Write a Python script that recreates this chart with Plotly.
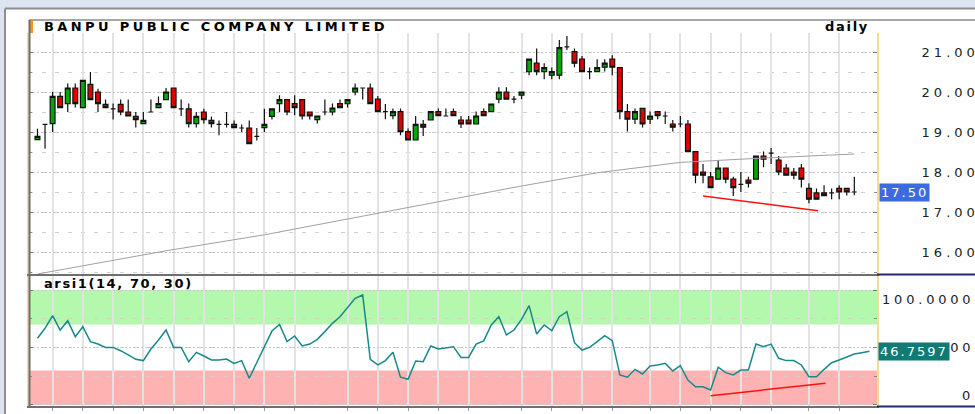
import plotly.graph_objects as go

# ---- data (daily candles, index = trading day) ----
opens = [18.81, 19.19, 19.21, 19.89, 19.71, 20.10, 19.61, 20.19, 20.00, 19.69,
         19.58, 19.69, 19.50, 19.39, 19.21, 19.50, 19.61, 19.81, 20.10, 19.58,
         19.58, 19.21, 19.50, 19.29, 19.19, 19.19, 19.19, 19.10, 19.10, 18.89,
         19.11, 19.39, 19.71, 19.81, 19.71, 19.81, 19.50, 19.31, 19.50, 19.50,
         19.71, 19.71, 20.00, 20.10, 20.10, 19.82, 19.51, 19.41, 19.51, 19.01,
         18.80, 19.19, 19.30, 19.51, 19.40, 19.51, 19.30, 19.30, 19.20, 19.51,
         19.51, 19.82, 20.00, 19.82, 19.92, 20.51, 20.72, 20.51, 20.42, 20.42,
         21.13, 21.01, 20.82, 20.51, 20.51, 20.62, 20.82, 20.61, 19.51, 19.32,
         19.59, 19.32, 19.51, 19.40, 19.20, 19.20, 19.20, 18.51, 18.00, 17.88,
         17.82, 18.10, 17.82, 17.69, 17.80, 17.82, 18.40, 18.47, 18.30, 18.10,
         18.00, 18.10, 17.59, 17.48, 17.48, 17.48, 17.59, 17.59, 17.50]
highs = [19.08, 19.19, 20.00, 20.00, 20.21, 20.21, 20.29, 20.50, 20.08, 19.81,
         19.71, 19.81, 19.81, 19.50, 19.50, 19.81, 19.89, 20.10, 20.10, 19.81,
         19.71, 19.50, 19.58, 19.39, 19.29, 19.50, 19.29, 19.19, 19.29, 19.10,
         19.58, 19.58, 19.92, 19.81, 19.92, 19.81, 19.50, 19.40, 19.81, 19.71,
         19.81, 19.81, 20.21, 20.10, 20.21, 19.90, 19.70, 19.59, 19.59, 19.09,
         19.40, 19.30, 19.51, 19.59, 19.59, 19.59, 19.40, 19.40, 19.51, 19.59,
         19.70, 20.12, 20.12, 19.90, 20.00, 20.82, 21.09, 20.72, 20.61, 21.30,
         21.40, 21.09, 20.90, 20.61, 20.82, 20.82, 20.92, 20.61, 19.70, 19.59,
         19.59, 19.51, 19.51, 19.51, 19.30, 19.40, 19.30, 18.51, 18.20, 18.00,
         18.30, 18.10, 17.88, 18.00, 17.88, 18.40, 18.51, 18.60, 18.40, 18.20,
         18.10, 18.20, 17.72, 17.59, 17.67, 17.59, 17.67, 17.59, 17.88]
lows = [18.80, 18.58, 19.00, 19.61, 19.50, 19.61, 19.61, 19.81, 19.50, 19.61,
        19.31, 19.42, 19.40, 19.11, 19.21, 19.50, 19.61, 19.81, 19.61, 19.40,
        19.11, 19.11, 19.21, 19.11, 18.92, 19.11, 19.11, 19.00, 18.71, 18.79,
        19.00, 19.31, 19.50, 19.42, 19.42, 19.31, 19.31, 19.21, 19.42, 19.42,
        19.61, 19.61, 19.92, 19.81, 19.71, 19.51, 19.32, 19.32, 18.92, 18.80,
        18.80, 18.90, 19.30, 19.41, 19.40, 19.41, 19.10, 19.20, 19.20, 19.41,
        19.51, 19.72, 19.82, 19.72, 19.82, 20.42, 20.42, 20.32, 20.32, 20.32,
        21.05, 20.62, 20.51, 20.32, 20.51, 20.51, 20.42, 19.32, 19.01, 19.20,
        19.11, 19.20, 19.32, 19.20, 19.01, 19.12, 18.51, 17.72, 17.72, 17.61,
        17.82, 17.72, 17.40, 17.50, 17.61, 17.82, 18.12, 18.20, 17.92, 17.92,
        17.82, 17.61, 17.22, 17.32, 17.41, 17.32, 17.32, 17.41, 17.42]
closes = [18.89, 19.19, 19.89, 19.61, 20.10, 19.71, 20.29, 19.81, 19.71, 19.61,
          19.58, 19.50, 19.40, 19.31, 19.29, 19.50, 19.71, 20.00, 19.61, 19.58,
          19.21, 19.39, 19.31, 19.21, 19.19, 19.19, 19.11, 19.10, 18.71, 18.89,
          19.19, 19.58, 19.81, 19.50, 19.61, 19.40, 19.40, 19.40, 19.50, 19.60,
          19.61, 19.81, 20.10, 20.10, 19.71, 19.51, 19.51, 19.51, 19.01, 18.80,
          19.19, 19.12, 19.51, 19.41, 19.40, 19.41, 19.20, 19.20, 19.40, 19.41,
          19.70, 20.00, 19.82, 19.82, 20.00, 20.82, 20.51, 20.61, 20.51, 21.11,
          21.13, 20.72, 20.51, 20.51, 20.61, 20.72, 20.62, 19.51, 19.32, 19.51,
          19.20, 19.40, 19.41, 19.40, 19.12, 19.20, 18.51, 17.92, 17.92, 17.61,
          18.10, 17.82, 17.61, 17.69, 17.72, 18.40, 18.32, 18.47, 18.00, 17.92,
          17.92, 17.82, 17.32, 17.32, 17.41, 17.48, 17.50, 17.50, 17.50]

# long moving average (grey line), read at a few days
ma_day = [0, 17, 30, 48, 64, 74, 85, 95, 108]
ma_val = [15.45, 16.03, 16.43, 17.08, 17.65, 17.98, 18.24, 18.34, 18.45]

# red trend lines drawn by the analyst
price_trend_day = [88.0, 103.2]
price_trend_val = [17.40, 17.03]
rsi_trend_day = [89.0, 104.2]
rsi_trend_val = [8.0, 19.0]

# arsi1(14, 70, 30) values
rsi = [58.0, 66.7, 77.7, 65.2, 73.3, 59.4, 68.1, 55.1, 53.0, 50.1,
       50.1, 47.2, 43.5, 39.7, 38.6, 48.7, 56.5, 65.2, 50.1, 50.1,
       37.7, 45.8, 42.6, 39.1, 39.1, 40.0, 36.2, 38.6, 23.2, 36.8,
       51.3, 64.3, 70.1, 55.1, 60.0, 51.3, 53.0, 57.1, 63.8, 71.0,
       76.8, 85.0, 92.8, 95.7, 39.7, 34.8, 38.6, 45.8, 24.1, 22.3,
       38.3, 37.7, 51.3, 48.7, 49.7, 50.7, 41.4, 41.4, 53.0, 55.7,
       69.6, 76.8, 60.9, 65.2, 74.5, 86.4, 61.7, 69.6, 64.6, 76.8,
       81.2, 54.2, 47.8, 50.1, 55.1, 60.3, 55.9, 26.1, 24.1, 31.0,
       27.0, 33.9, 34.8, 36.2, 29.6, 34.2, 21.7, 15.9, 15.9, 13.0,
       32.8, 28.1, 26.1, 30.4, 30.4, 53.0, 50.7, 53.0, 40.6, 38.6,
       38.6, 34.8, 24.6, 24.6, 31.0, 36.8, 39.1, 41.4, 44.3, 45.5,
       46.7597]
rsi_upper = 70
rsi_lower = 30

# week separators (vertical grid) and axis labels
grid_days = [2, 6, 10, 14, 18, 22, 26, 30, 34, 41, 45, 49, 53, 57, 64, 68,
             72, 76, 81, 85, 89, 93, 97, 102, 106]
price_ticks = [16, 17, 18, 19, 20, 21]
price_ticklabels = ['16.00', '17.00', '18.00', '19.00', '20.00', '21.00']
rsi_ticks = [100, 50, 0]
rsi_ticklabels = ['100.0000', '50.0000', '0']

title = 'BANPU PUBLIC COMPANY LIMITED'
period = 'daily'
indicator = 'arsi1(14, 70, 30)'

# ---- layout helpers ----
W, H = 975, 414
ML, MR, MT, MB = 29, 98, 33, 8
PW, PH = W - ML - MR, H - MT - MB
FONT = 'DejaVu Sans'
GREEN, RED = '#00a800', '#e00000'
GRID = '#e3e3e3'


def px(x):
    return (x - ML) / PW


def py(y):
    return (H - MB - y) / PH


def spaced(s, ls):
    return f'<span style="letter-spacing:{ls}px">{s}</span>'


days = list(range(len(closes)))

fig = go.Figure()
fig.add_trace(go.Candlestick(
    x=days, open=opens, high=highs, low=lows, close=closes,
    increasing=dict(fillcolor=GREEN, line=dict(color='#111', width=1.2)),
    decreasing=dict(fillcolor=RED, line=dict(color='#111', width=1.2)),
    whiskerwidth=0, showlegend=False, hoverinfo='skip',
))
fig.add_trace(go.Scatter(x=ma_day, y=ma_val, mode='lines',
                         line=dict(color='#a0a0a0', width=1), showlegend=False))
fig.add_trace(go.Scatter(x=price_trend_day, y=price_trend_val, mode='lines',
                         line=dict(color='#ff1010', width=1.5), showlegend=False))
fig.add_trace(go.Scatter(x=list(range(len(rsi))), y=rsi, mode='lines',
                         line=dict(color='#17898a', width=1.5), showlegend=False,
                         xaxis='x2', yaxis='y2'))
fig.add_trace(go.Scatter(x=rsi_trend_day, y=rsi_trend_val, mode='lines',
                         line=dict(color='#ff1010', width=1.5), showlegend=False,
                         xaxis='x2', yaxis='y2'))

xcommon = dict(
    range=[-1.12, 111.0], tickmode='array', tickvals=grid_days,
    showticklabels=False, showgrid=True, gridcolor=GRID, gridwidth=2,
    zeroline=False, showline=True, linecolor='#6f6f6f', linewidth=2,
    automargin=False, fixedrange=True,
)

shapes = [
    # overbought / oversold bands
    dict(type='rect', xref='x2 domain', yref='y2', x0=0, x1=1, y0=rsi_upper, y1=100,
         fillcolor='#b3f8ad', line=dict(width=0), layer='below'),
    dict(type='rect', xref='x2 domain', yref='y2', x0=0, x1=1, y0=0, y1=rsi_lower,
         fillcolor='#ffb2b2', line=dict(width=0), layer='below'),
    # window frame
    dict(type='rect', xref='paper', yref='paper', x0=px(0), x1=px(W), y0=py(0), y1=py(8),
         fillcolor='#dbe4f0', line=dict(width=0)),
    dict(type='rect', xref='paper', yref='paper', x0=px(0), x1=px(4.5), y0=py(H), y1=py(0),
         fillcolor='#dbe4f0', line=dict(width=0)),
    dict(type='line', xref='paper', yref='paper', x0=px(5), x1=px(W), y0=py(8.5), y1=py(8.5),
         line=dict(color='#8e8e8e', width=2)),
    dict(type='line', xref='paper', yref='paper', x0=px(5), x1=px(5), y0=py(8.5), y1=py(H),
         line=dict(color='#8e8e8e', width=2)),
    # title strip
    dict(type='line', xref='paper', yref='paper', x0=px(29), x1=px(W), y0=py(20), y1=py(20),
         line=dict(color='#8a8a8a', width=1.5)),
    dict(type='rect', xref='paper', yref='paper', x0=px(29), x1=px(33), y0=py(33), y1=py(20),
         fillcolor='#f7931e', line=dict(width=0)),
    # left frame
    dict(type='line', xref='paper', yref='paper', x0=px(29.5), x1=px(29.5), y0=py(20), y1=py(407),
         line=dict(color='#6f6f6f', width=2)),
    # dark rule under the value axis
    dict(type='line', xref='paper', yref='paper', x0=px(877), x1=px(W), y0=py(274.5), y1=py(274.5),
         line=dict(color='#1d2b6b', width=2)),
    dict(type='line', xref='paper', yref='paper', x0=px(877), x1=px(W), y0=py(406.5), y1=py(406.5),
         line=dict(color='#1d2b6b', width=2)),
]

annotations = [
    dict(text=spaced(title, 3.4), xref='paper', yref='paper', x=px(42), y=py(26.5),
         xanchor='left', yanchor='middle', showarrow=False,
         font=dict(family=FONT, size=13, color='#000', weight='bold')),
    dict(text=spaced(period, 1.7), xref='paper', yref='paper', x=px(871), y=py(27),
         xanchor='right', yanchor='middle', showarrow=False,
         font=dict(family=FONT, size=13, color='#000', weight='bold')),
    dict(text=spaced(indicator, 1.6), xref='paper', yref='paper', x=px(42), y=py(283),
         xanchor='left', yanchor='middle', showarrow=False,
         font=dict(family=FONT, size=13, color='#000', weight='bold')),
]
for val, lab, anchor in zip(rsi_ticks, rsi_ticklabels, ['top', 'middle', 'bottom']):
    annotations.append(dict(
        text=spaced(lab, 3.8), xref='paper', yref='y2', x=px(976), y=val,
        xanchor='right', yanchor=anchor, showarrow=False,
        font=dict(family=FONT, size=13, color='#222')))
annotations += [
    dict(text=spaced(f'{closes[-1]:.2f}', 2), xref='paper', yref='y', x=px(878.5), y=closes[-1],
         xanchor='left', yanchor='middle', showarrow=False, bgcolor='#3c6bdc', borderpad=1,
         font=dict(family=FONT, size=13, color='#fff')),
    dict(text=spaced(f'{rsi[-1]:.4f}', 2), xref='paper', yref='y2', x=px(877.5), y=rsi[-1],
         xanchor='left', yanchor='middle', showarrow=False, bgcolor='#0f7b74', borderpad=1,
         font=dict(family=FONT, size=13, color='#fff')),
]

fig.update_layout(
    template='none',
    width=W, height=H,
    margin=dict(l=ML, r=MR, t=MT, b=MB),
    paper_bgcolor='#ffffff', plot_bgcolor='#ffffff',
    showlegend=False,
    boxgap=0.2, boxgroupgap=0.2,
    font=dict(family=FONT, size=13, color='#222'),
    xaxis=dict(**xcommon, domain=[0, 1], anchor='y', ticks='', rangeslider=dict(visible=False)),
    xaxis2=dict(**xcommon, domain=[0, 1], anchor='y2', ticks='outside', ticklen=3,
                tickcolor='#9a9a9a'),
    yaxis=dict(
        domain=[py(274), 1], range=[15.45, 21.475], side='right', anchor='x',
        tickmode='array', tickvals=price_ticks,
        ticktext=[spaced(t, 4) for t in price_ticklabels],
        tickfont=dict(family=FONT, size=13, color='#222'), ticklabelstandoff=40,
        showgrid=True, gridcolor='#c6c6c6', griddash='2px,2px', gridwidth=1,
        showline=True, linecolor='#f2dc9a', linewidth=2, mirror='ticks',
        ticks='inside', ticklen=4, tickcolor='#777',
        minor=dict(tickmode='linear', tick0=0, dtick=0.5, showgrid=True, gridcolor='#d0d0d0',
                   griddash='4px,9px', ticks='inside', ticklen=3, tickcolor='#888'),
        zeroline=False, automargin=False, fixedrange=True,
    ),
    yaxis2=dict(
        domain=[0, py(276)], range=[-0.9, 112.2], side='right', anchor='x2',
        tickmode='array', tickvals=rsi_ticks, showticklabels=False,
        showgrid=True, gridcolor='#c6c6c6', griddash='2px,2px', gridwidth=1,
        showline=True, linecolor='#f2dc9a', linewidth=2, mirror='ticks',
        ticks='inside', ticklen=4, tickcolor='#777',
        minor=dict(tickmode='linear', tick0=0, dtick=25, showgrid=True, gridcolor='#d0d0d0',
                   griddash='4px,9px', ticks='inside', ticklen=3, tickcolor='#888'),
        zeroline=False, automargin=False, fixedrange=True,
    ),
    shapes=shapes,
    annotations=annotations,
)

# the page's default body margin would push the figure 8px in from the corner
fig.write_html('out.html', config={'displayModeBar': False},
               post_script="document.body.style.margin = '0';")
